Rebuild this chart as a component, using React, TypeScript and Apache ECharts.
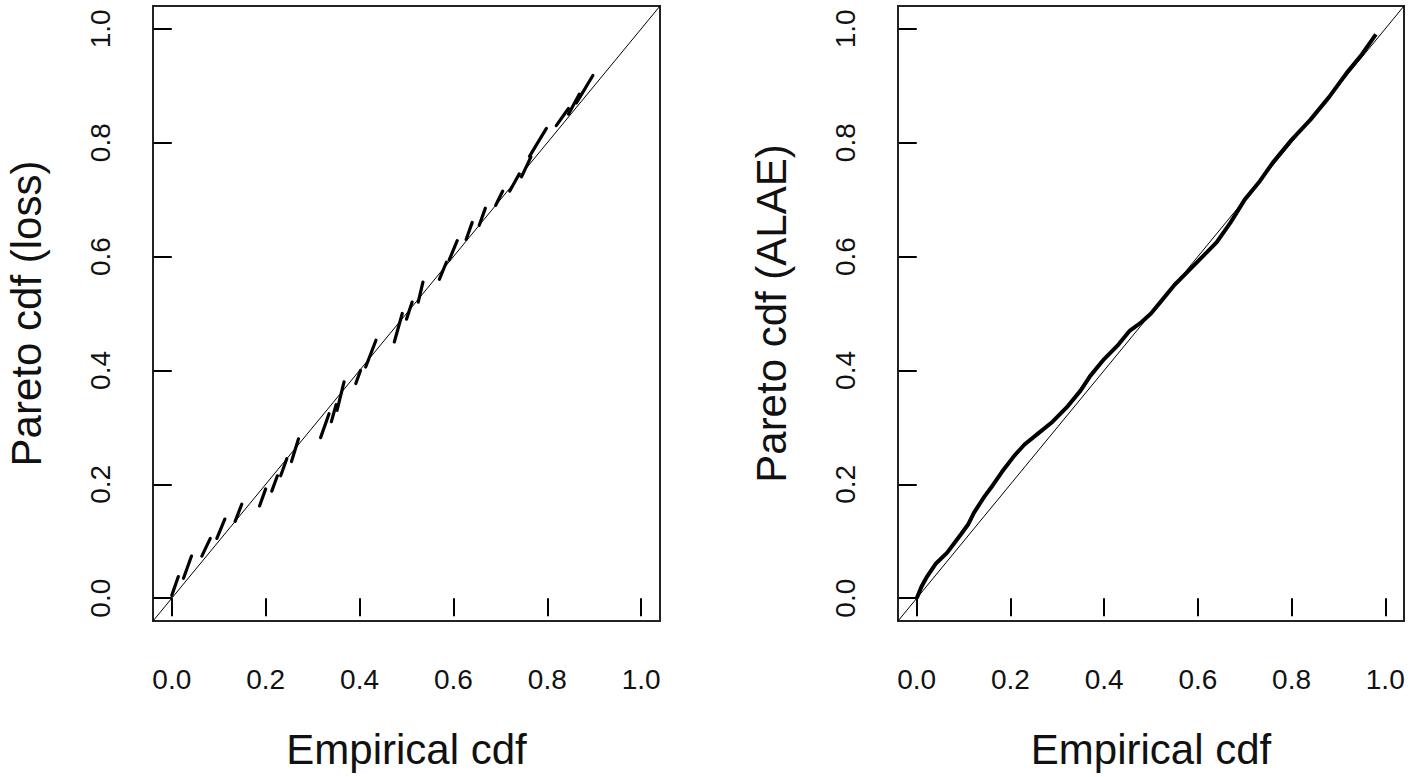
import React, { useEffect, useRef } from "react";
import * as echarts from "echarts";

// Tick values shared by both panels
const tickValues = [0, 0.2, 0.4, 0.6, 0.8, 1.0];

// Left panel: short steep runs of points (start x, start y, end x, end y)
const lossX0 = [0.0, 0.025, 0.064, 0.096, 0.135, 0.187, 0.213, 0.232, 0.255, 0.317, 0.34, 0.352, 0.392, 0.413, 0.474, 0.5, 0.525, 0.57, 0.591, 0.627, 0.655, 0.69, 0.72, 0.745, 0.762, 0.819, 0.845, 0.862];
const lossY0 = [0.005, 0.035, 0.074, 0.105, 0.135, 0.162, 0.188, 0.215, 0.24, 0.282, 0.31, 0.33, 0.377, 0.406, 0.45, 0.49, 0.52, 0.56, 0.594, 0.63, 0.655, 0.69, 0.715, 0.74, 0.776, 0.83, 0.85, 0.87];
const lossX1 = [0.014, 0.042, 0.082, 0.113, 0.149, 0.2, 0.225, 0.245, 0.27, 0.335, 0.35, 0.367, 0.402, 0.435, 0.491, 0.512, 0.535, 0.585, 0.608, 0.64, 0.668, 0.705, 0.74, 0.765, 0.798, 0.845, 0.868, 0.897];
const lossY1 = [0.038, 0.074, 0.105, 0.139, 0.165, 0.192, 0.215, 0.245, 0.28, 0.324, 0.34, 0.38, 0.4, 0.453, 0.5, 0.52, 0.555, 0.59, 0.628, 0.66, 0.685, 0.715, 0.745, 0.775, 0.825, 0.86, 0.885, 0.918];

// Right panel: empirical cdf vs Pareto cdf (ALAE)
const alaeX = [0, 0.01, 0.022, 0.04, 0.065, 0.094, 0.11, 0.122, 0.144, 0.162, 0.182, 0.208, 0.23, 0.26, 0.29, 0.32, 0.35, 0.37, 0.4, 0.43, 0.455, 0.48, 0.5, 0.52, 0.55, 0.58, 0.61, 0.64, 0.67, 0.7, 0.73, 0.76, 0.8, 0.84, 0.88, 0.92, 0.95, 0.98];
const alaeY = [0, 0.02, 0.038, 0.06, 0.08, 0.112, 0.13, 0.15, 0.178, 0.198, 0.222, 0.25, 0.27, 0.29, 0.31, 0.335, 0.365, 0.39, 0.42, 0.445, 0.47, 0.485, 0.5, 0.52, 0.55, 0.575, 0.6, 0.625, 0.66, 0.7, 0.73, 0.765, 0.805, 0.84, 0.88, 0.925, 0.955, 0.99];

const xTitle = "Empirical cdf";
const yTitleLeft = "Pareto cdf (loss)";
const yTitleRight = "Pareto cdf (ALAE)";

const FONT = "'Liberation Sans', Arial, sans-serif";
const TEXT = "#111";

function makeX(gridIndex: number) {
  return {
    type: "value",
    gridIndex,
    min: -0.04,
    max: 1.04,
    name: xTitle,
    nameLocation: "middle",
    nameGap: 107,
    nameTextStyle: { fontFamily: FONT, fontSize: 42, color: TEXT },
    axisLine: { show: false },
    splitLine: { show: false },
    axisTick: {
      show: true,
      inside: false,
      length: 18,
      customValues: tickValues,
      lineStyle: { color: "#000", width: 2 },
    },
    axisLabel: {
      customValues: tickValues,
      margin: 44,
      fontFamily: FONT,
      fontSize: 28,
      color: TEXT,
      formatter: (v: number) => v.toFixed(1),
    },
  };
}

function makeY(gridIndex: number, title: string) {
  return {
    type: "value",
    gridIndex,
    min: -0.04,
    max: 1.04,
    name: title,
    nameLocation: "middle",
    nameGap: 106,
    nameTextStyle: { fontFamily: FONT, fontSize: 42, color: TEXT },
    axisLine: { show: false },
    splitLine: { show: false },
    axisTick: {
      show: true,
      inside: false,
      length: 18,
      customValues: tickValues,
      lineStyle: { color: "#000", width: 2 },
    },
    axisLabel: {
      customValues: tickValues,
      rotate: 90,
      margin: 39,
      fontFamily: FONT,
      fontSize: 28,
      color: TEXT,
      formatter: (v: number) => v.toFixed(1),
    },
  };
}

const diag = [
  [-0.04, -0.04],
  [1.04, 1.04],
];

export default function App() {
  const ref = useRef<HTMLDivElement>(null);
  useEffect(() => {
    document.body.style.margin = "0";
    if (!ref.current) return;
    const chart = echarts.init(ref.current, null, { renderer: "svg" });
    const lossSegments = lossX0.map((x0, i) => ({
      coords: [
        [x0, lossY0[i]],
        [lossX1[i], lossY1[i]],
      ],
    }));
    const alaeData = alaeX.map((x, i) => [x, alaeY[i]]);
    chart.setOption({
      animation: false,
      backgroundColor: "#fff",
      grid: [
        { left: 153, top: 6, width: 507, height: 615, show: true, borderColor: "#222", borderWidth: 2, backgroundColor: "transparent" },
        { left: 898, top: 6, width: 506, height: 615, show: true, borderColor: "#222", borderWidth: 2, backgroundColor: "transparent" },
      ],
      xAxis: [makeX(0), makeX(1)],
      yAxis: [makeY(0, yTitleLeft), makeY(1, yTitleRight)],
      series: [
        {
          type: "line",
          xAxisIndex: 0,
          yAxisIndex: 0,
          data: diag,
          showSymbol: false,
          silent: true,
          lineStyle: { color: "#000", width: 1 },
        },
        {
          type: "lines",
          coordinateSystem: "cartesian2d",
          xAxisIndex: 0,
          yAxisIndex: 0,
          data: lossSegments,
          silent: true,
          lineStyle: { color: "#000", width: 3.2, opacity: 1, cap: "round" },
        },
        {
          type: "line",
          xAxisIndex: 1,
          yAxisIndex: 1,
          data: diag,
          showSymbol: false,
          silent: true,
          lineStyle: { color: "#000", width: 1 },
        },
        {
          type: "line",
          xAxisIndex: 1,
          yAxisIndex: 1,
          data: alaeData,
          showSymbol: false,
          silent: true,
          lineStyle: { color: "#000", width: 4 },
        },
      ],
    });
    return () => chart.dispose();
  }, []);
  return <div ref={ref} style={{ width: 1415, height: 777 }} />;
}
